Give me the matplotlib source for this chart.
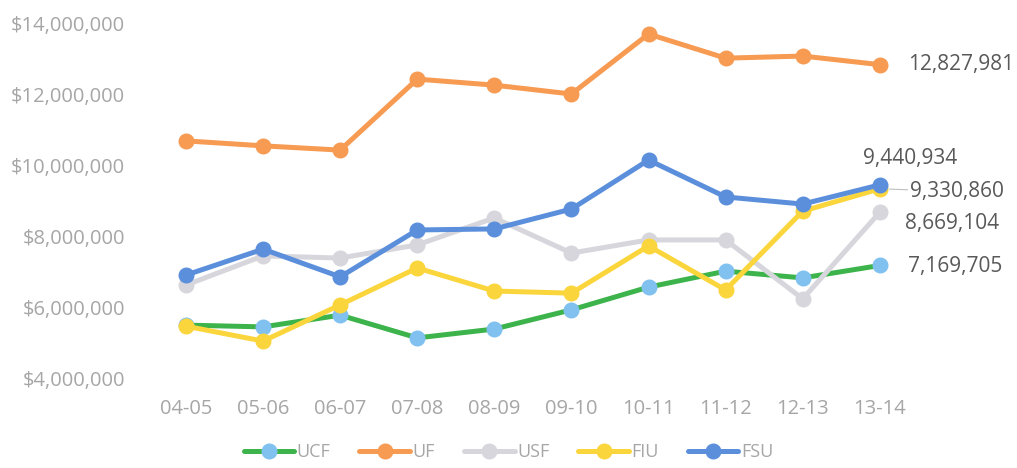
import matplotlib.pyplot as plt
from matplotlib.ticker import FuncFormatter

years = ['04-05', '05-06', '06-07', '07-08', '08-09', '09-10', '10-11', '11-12', '12-13', '13-14']

ucf = [5490000, 5440000, 5770000, 5130000, 5380000, 5920000, 6560000, 7010000, 6820000, 7169705]
uf = [10680000, 10540000, 10420000, 12420000, 12250000, 12000000, 13690000, 13010000, 13070000, 12827981]
usf = [6620000, 7440000, 7380000, 7750000, 8510000, 7520000, 7890000, 7890000, 6230000, 8669104]
fiu = [5460000, 5040000, 6060000, 7100000, 6450000, 6390000, 7720000, 6480000, 8700000, 9330860]
fsu = [6900000, 7630000, 6850000, 8170000, 8200000, 8760000, 10140000, 9100000, 8900000, 9440934]

names = ['UCF', 'UF', 'USF', 'FIU', 'FSU']
series = [ucf, uf, usf, fiu, fsu]
line_colors = ['#3cb44b', '#f79a52', '#d6d6dc', '#fbd53c', '#5b8fdc']
marker_colors = ['#80c1f0', '#f79a52', '#d6d6dc', '#fbd53c', '#5b8fdc']

plt.rcParams['font.family'] = ['Open Sans', 'DejaVu Sans']

fig = plt.figure(figsize=(10.17, 4.68), dpi=100)
ax = fig.add_axes([0.145, 0.1923, 0.758, 0.7585])

x = range(len(years))
for name, vals, lc, mc in zip(names, series, line_colors, marker_colors):
    ax.plot(x, vals, color=lc, lw=3.6, marker='o', ms=10.5,
            markerfacecolor=mc, markeredgecolor=mc, label=name, solid_capstyle='round')

ax.set_xlim(-0.5, len(years) - 0.5)
ax.set_ylim(4000000, 14000000)
ax.set_yticks(range(4000000, 14000001, 2000000))
ax.yaxis.set_major_formatter(FuncFormatter(lambda v, p: '${:,.0f}'.format(v)))
ax.set_xticks(list(x))
ax.set_xticklabels(years)
ax.tick_params(length=0, labelsize=14.5, colors='#a6a6a6')
ax.tick_params(axis='y', pad=16)
ax.tick_params(axis='x', pad=15)
for s in ax.spines.values():
    s.set_visible(False)

last = len(years) - 1
lab_style = dict(fontsize=15, color='#595959', va='center', clip_on=False)
ax.annotate('{:,}'.format(uf[-1]), (last, uf[-1]), xytext=(20, 0), textcoords='offset points', **lab_style)
ax.annotate('{:,}'.format(fsu[-1]), (last, fsu[-1]), xytext=(-12, 19), textcoords='offset points', **lab_style)
ax.annotate('{:,}'.format(fiu[-1]), (last, fiu[-1]), xytext=(22, -2), textcoords='offset points',
            arrowprops=dict(arrowstyle='-', color='#bfbfbf', lw=0.8, shrinkA=0, shrinkB=7), **lab_style)
ax.annotate('{:,}'.format(usf[-1]), (last, usf[-1]), xytext=(18, -8), textcoords='offset points', **lab_style)
ax.annotate('{:,}'.format(ucf[-1]), (last, ucf[-1]), xytext=(20, -1), textcoords='offset points', **lab_style)

leg = fig.legend(loc='lower center', ncol=5, frameon=False, bbox_to_anchor=(0.5, -0.02),
                 fontsize=13, handlelength=2.8, columnspacing=1.6, handletextpad=0.15)
for t in leg.get_texts():
    t.set_color('#a6a6a6')

plt.savefig('out.png', dpi=100)
